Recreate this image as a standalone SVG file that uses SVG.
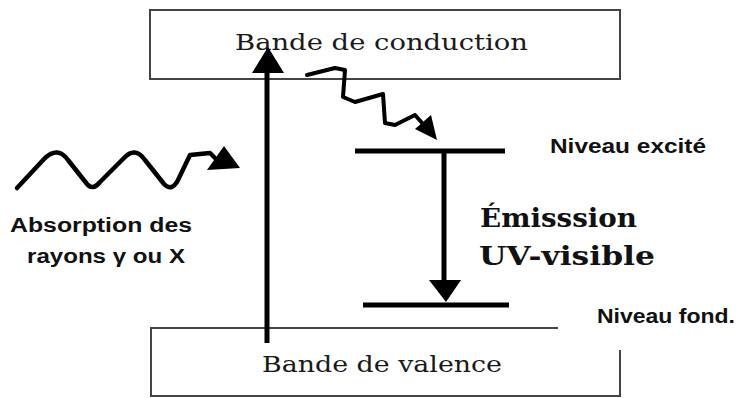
<svg xmlns="http://www.w3.org/2000/svg" width="750" height="398" viewBox="0 0 750 398">
<style>
.box{fill:none;stroke:#444;stroke-width:2}
.band{font-family:"DejaVu Serif","Liberation Serif",serif;font-size:23px;fill:#1a1a1a}
.lbl{font-family:"Liberation Sans",Arial,sans-serif;font-weight:bold;font-size:19.5px;fill:#111}
.em{font-family:"DejaVu Serif","Liberation Serif",serif;font-weight:bold;font-size:26px;fill:#111}
.lvl{stroke:#000;stroke-width:5;fill:none}
.wire{stroke:#000;fill:none;stroke-linejoin:round;stroke-linecap:round}
.head{fill:#000}
</style>
<rect width="750" height="398" fill="#fff"/>
<g id="conduction">
<rect class="box" x="150" y="10" width="470" height="69"/>
<text class="band" x="235" y="50" textLength="293" lengthAdjust="spacingAndGlyphs">Bande de conduction</text>
</g>
<g id="valence">
<path class="box" d="M558,328 H151 V396 H620 V350"/>
<text class="band" x="262" y="372" textLength="240" lengthAdjust="spacingAndGlyphs">Bande de valence</text>
</g>
<g id="excited">
<line class="lvl" x1="355" y1="151" x2="505" y2="151"/>
<text class="lbl" x="550" y="153" textLength="156" lengthAdjust="spacingAndGlyphs">Niveau excité</text>
</g>
<g id="ground">
<line class="lvl" x1="363" y1="305" x2="509" y2="305" stroke-width="6"/>
<text class="lbl" x="597" y="323" textLength="138" lengthAdjust="spacingAndGlyphs">Niveau fond.</text>
</g>
<g id="emission">
<text class="em" x="480" y="227" textLength="157" lengthAdjust="spacingAndGlyphs">Émisssion</text>
<text class="em" x="479" y="265" textLength="176" lengthAdjust="spacingAndGlyphs">UV-visible</text>
</g>
<g id="absorption">
<text class="lbl" x="10" y="232" textLength="182" lengthAdjust="spacingAndGlyphs">Absorption des</text>
<text class="lbl" x="27" y="263" textLength="158" lengthAdjust="spacingAndGlyphs">rayons γ ou X</text>
</g>
<g id="connectors">
<path class="wire" stroke-width="4.5" d="M17,188 L45,158 Q58,146 68,160 L87,184 Q93,191 100,182 L124,158 Q135,146 145,160 L164,184 Q172,192 178,180 L190,155 L210,153 L215,158"/>
<polygon class="head" points="224,146 207,170 240,168"/>
<path class="wire" stroke-width="4" d="M307,75 L335,68 L345,70 L343,97 L355,102 L383,94 L385,123 L395,125 L415,115 L423,124"/>
<polygon class="head" points="437,140 415,129 431,115"/>
<line stroke="#000" stroke-width="5" x1="267" y1="343" x2="267" y2="70"/>
<polygon class="head" points="268,47 252,73 284,73"/>
<line stroke="#000" stroke-width="5" x1="444" y1="151" x2="444" y2="282"/>
<polygon class="head" points="429,280 461,280 446,302"/>
</g>
</svg>
